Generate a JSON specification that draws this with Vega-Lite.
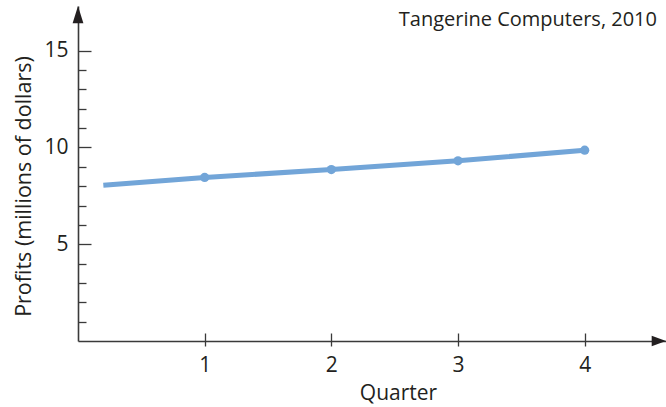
{
  "$schema": "https://vega.github.io/schema/vega-lite/v6.json",
  "width": 588,
  "height": 335,
  "autosize": {"type": "none"},
  "padding": {"left": 78, "top": 6, "right": 0, "bottom": 66},
  "background": "white",
  "title": {
    "text": "Tangerine Computers, 2010",
    "anchor": "end",
    "frame": "group",
    "orient": "top",
    "offset": -40,
    "dx": -9,
    "baseline": "alphabetic",
    "font": "Open Sans",
    "fontSize": 20,
    "fontWeight": "normal",
    "color": "#231f20"
  },
  "config": {
    "view": {"stroke": null},
    "axis": {
      "grid": false,
      "domainColor": "#3a3a3a",
      "domainWidth": 1.6,
      "tickColor": "#3a3a3a",
      "tickWidth": 1.3
    }
  },
  "datasets": {
    "profits": [
      {"quarter": 0.2, "profit": 8.05},
      {"quarter": 1, "profit": 8.45},
      {"quarter": 2, "profit": 8.86},
      {"quarter": 3, "profit": 9.31},
      {"quarter": 4, "profit": 9.86}
    ],
    "arrows": [
      {"x": 0, "y": 17.31, "dir": "up"},
      {"x": 4.642, "y": 0, "dir": "right"}
    ]
  },
  "layer": [
    {
      "data": {"name": "profits"},
      "mark": {"type": "line", "color": "#72a5d8", "strokeWidth": 5},
      "encoding": {
        "x": {
          "field": "quarter", "type": "quantitative",
          "scale": {"domain": [0, 4.642], "nice": false, "zero": false},
          "axis": {
            "orient": "bottom",
            "values": [1, 2, 3, 4],
            "tickSize": 5,
            "labelPadding": 8,
            "labelFont": "Open Sans",
            "labelFontSize": 21,
            "labelColor": "#231f20",
            "title": "Quarter",
            "titleFont": "Open Sans",
            "titleFontSize": 21,
            "titleFontWeight": "normal",
            "titleColor": "#231f20",
            "titleX": 320,
            "titlePadding": 7
          }
        },
        "y": {
          "field": "profit", "type": "quantitative",
          "scale": {"domain": [0, 17.31], "nice": false, "zero": false},
          "axis": {
            "orient": "left",
            "values": [5, 10, 15],
            "tickSize": -13,
            "labelPadding": 23,
            "labelFont": "Open Sans",
            "labelFontSize": 21,
            "labelColor": "#231f20",
            "title": "Profits (millions of dollars)",
            "titleFont": "Open Sans",
            "titleFontSize": 21.5,
            "titleFontWeight": "normal",
            "titleColor": "#231f20",
            "titleY": 180,
            "titlePadding": 8
          }
        }
      }
    },
    {
      "data": {"name": "profits"},
      "transform": [{"filter": "datum.quarter >= 1"}],
      "mark": {"type": "point", "filled": true, "color": "#72a5d8", "opacity": 1, "size": 85},
      "encoding": {
        "x": {"field": "quarter", "type": "quantitative", "axis": null},
        "y": {"field": "profit", "type": "quantitative", "axis": null}
      }
    },
    {
      "data": {"name": "arrows"},
      "mark": {"type": "point", "filled": true, "opacity": 1, "color": "#231f20", "size": 300},
      "encoding": {
        "x": {
          "field": "x", "type": "quantitative",
          "axis": {
            "orient": "bottom",
            "values": [1, 2, 3, 4],
            "tickSize": -8,
            "labels": false,
            "domain": false,
            "title": null
          }
        },
        "y": {
          "field": "y", "type": "quantitative",
          "axis": {
            "orient": "left",
            "values": [1, 2, 3, 4, 6, 7, 8, 9, 11, 12, 13, 14],
            "tickSize": -8,
            "labels": false,
            "domain": false,
            "title": null
          }
        },
        "shape": {
          "field": "dir", "type": "nominal", "legend": null,
          "scale": {
            "domain": ["up", "right"],
            "range": ["M0,0L0.62,2L-0.62,2Z", "M0,0L-1.65,0.6L-1.65,-0.6Z"]
          }
        }
      }
    }
  ],
  "resolve": {"axis": {"x": "independent", "y": "independent"}}
}
